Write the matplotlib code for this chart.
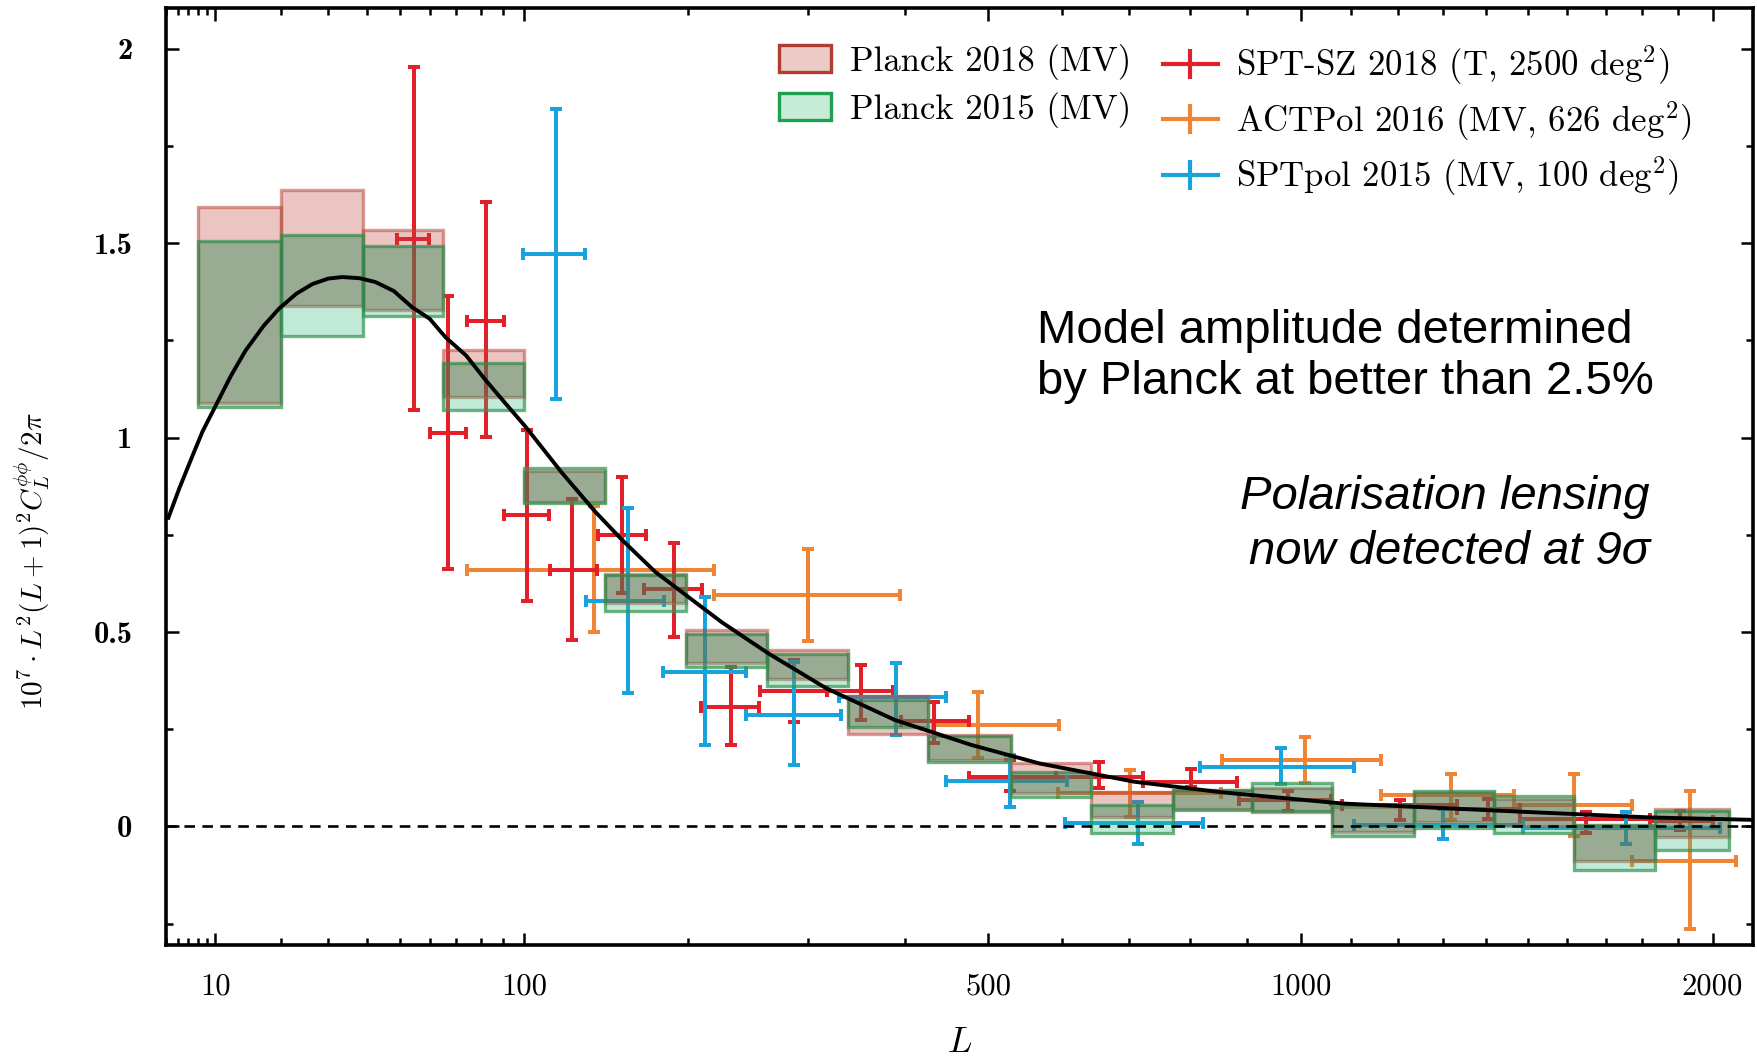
# CMB lensing power spectrum: Planck 2018/2015 bandpowers vs ground-based experiments
import numpy as np
import matplotlib
matplotlib.use('Agg')
import matplotlib.pyplot as plt
from matplotlib.lines import Line2D
from matplotlib.patches import Patch

plt.rcParams['mathtext.fontset'] = 'cm'
plt.rcParams['axes.unicode_minus'] = False

# ----------------------------------------------------------
# data
# Planck bin edges in L
bin_edges = np.array([8, 20, 39, 65, 100, 144, 198, 263, 339, 426, 530, 642,
                      770, 908, 1062, 1234, 1418, 1617, 1836, 2048])
# Planck 2018 (MV) band lower / upper
p18_lo = np.array([1.09, 1.339, 1.329, 1.104, 0.835, 0.575, 0.421, 0.378, 0.239, 0.170,
                   0.085, 0.025, 0.044, 0.036, -0.014, 0.012, 0.000, -0.090, -0.027])
p18_hi = np.array([1.594, 1.638, 1.535, 1.226, 0.915, 0.650, 0.505, 0.454, 0.335, 0.235,
                   0.162, 0.089, 0.093, 0.100, 0.050, 0.088, 0.070, 0.005, 0.046])
# Planck 2015 (MV) band lower / upper
p15_lo = np.array([1.080, 1.262, 1.312, 1.070, 0.831, 0.555, 0.409, 0.361, 0.256, 0.166,
                   0.076, -0.016, 0.042, 0.040, -0.025, -0.005, -0.018, -0.112, -0.061])
p15_hi = np.array([1.505, 1.522, 1.494, 1.193, 0.921, 0.647, 0.495, 0.443, 0.325, 0.232,
                   0.141, 0.055, 0.095, 0.112, 0.055, 0.092, 0.078, 0.003, 0.040])

# SPT-SZ 2018 (T, 2500 deg^2)
spt_L = np.array([54.5, 66.8, 82.5, 101.4, 124.8, 154.4, 189.6, 232.9, 287, 352.6, 433,
                  527.7, 654.5, 801, 975, 1205, 1405, 1648, 1905])
spt_Llo = np.array([49.1, 60.3, 74.4, 90.2, 112.8, 139.5, 169.1, 209.4, 257, 318, 396,
                    476, 591, 722, 885, 1083, 1332, 1482, 1821])
spt_Lhi = np.array([59.9, 74.0, 90.3, 112.2, 139, 170, 210, 256.2, 318, 387, 476,
                    591, 722, 882, 1060, 1332, 1482, 1821, 2000])
spt_val = np.array([1.511, 1.012, 1.301, 0.800, 0.660, 0.750, 0.610, 0.308, 0.349, 0.349,
                    0.270, 0.128, 0.128, 0.115, 0.068, 0.055, 0.045, 0.020, 0.015])
spt_lo = np.array([1.072, 0.661, 1.001, 0.581, 0.480, 0.600, 0.488, 0.209, 0.269, 0.275,
                   0.214, 0.090, 0.098, 0.102, 0.040, 0.016, 0.020, -0.018, -0.010])
spt_hi = np.array([1.952, 1.363, 1.605, 1.020, 0.842, 0.900, 0.730, 0.409, 0.428, 0.415,
                   0.321, 0.170, 0.166, 0.149, 0.092, 0.068, 0.070, 0.038, 0.040])

# ACTPol 2016 (MV, 626 deg^2)
act_L = np.array([137.5, 300.6, 487, 702, 1009, 1317, 1618, 1935])
act_Llo = np.array([74.4, 219, 432, 594, 854, 1163, 1466, 1772])
act_Lhi = np.array([219, 394, 596, 853, 1163, 1466, 1772, 2070])
act_val = np.array([0.660, 0.594, 0.261, 0.085, 0.172, 0.081, 0.055, -0.088])
act_lo = np.array([0.501, 0.478, 0.177, 0.025, 0.112, 0.016, -0.025, -0.263])
act_hi = np.array([0.824, 0.713, 0.347, 0.145, 0.229, 0.136, 0.136, 0.092])

# SPTpol 2015 (MV, 100 deg^2)
pol_L = np.array([116.3, 158.3, 212.4, 287.2, 390.6, 527.7, 713.6, 962.3, 1300, 1756])
pol_Llo = np.array([99.3, 132.9, 181.4, 244.9, 330.2, 448, 604, 817, 1107, 1488])
pol_Lhi = np.array([132.1, 182.1, 244.9, 331.9, 448, 607, 821, 1107, 1488, 2023])
pol_val = np.array([1.471, 0.581, 0.396, 0.286, 0.334, 0.117, 0.010, 0.153, 0.003, -0.005])
pol_lo = np.array([1.10, 0.343, 0.209, 0.158, 0.235, 0.049, -0.044, 0.109, -0.031, -0.044])
pol_hi = np.array([1.844, 0.820, 0.591, 0.424, 0.421, 0.184, 0.063, 0.203, 0.046, 0.038])

model_L = np.array([5.2, 6.14, 7.6, 8.5, 9.64, 12, 14.1, 17, 19.7, 23, 26.4, 30, 33.4, 38,
                    42.5, 48, 54, 60, 65.9, 74, 82, 91, 100.4, 119.2, 138, 155, 176.3, 200,
                    225.6, 264.3, 318, 388.7, 478, 568, 708, 853, 1083, 1482, 1827, 2121])
model_v = np.array([0.794, 0.869, 0.964, 1.016, 1.066, 1.159, 1.224, 1.288, 1.332, 1.370,
                    1.395, 1.409, 1.413, 1.410, 1.400, 1.377, 1.335, 1.306, 1.258, 1.211,
                    1.149, 1.088, 1.029, 0.910, 0.810, 0.735, 0.655, 0.590, 0.525, 0.445,
                    0.355, 0.274, 0.210, 0.162, 0.115, 0.088, 0.059, 0.038, 0.023, 0.017])

xmajor = [10, 100, 500, 1000, 2000]
xminor = [5, 6, 7, 8, 9, 20, 30, 40, 50, 60, 70, 80, 90, 200, 300, 400, 600, 700, 800, 900,
          1100, 1200, 1300, 1400, 1500, 1600, 1700, 1800, 1900]
ymajor = [0, 0.5, 1, 1.5, 2]
yminor = [-0.25, 0.25, 0.75, 1.25, 1.75]

c_spt = '#e2202a'
c_act = '#f08535'
c_pol = '#18a3dc'

# ----------------------------------------------------------
fig = plt.figure(figsize=(17.58, 10.64), dpi=100, facecolor='w')
ax = fig.add_axes([0.0944, 0.1118, 0.9028, 0.8807])

p = 0.4
ax.set_xscale('function', functions=(lambda x: np.abs(x)**p, lambda x: np.abs(x)**(1/p)))
ax.set_xlim(5.2, 2121)
ax.set_ylim(-0.305, 2.105)


def ebar(L, Llo, Lhi, v, lo, hi, col):
    ax.errorbar(L, v, xerr=[L - Llo, Lhi - L], yerr=[v - lo, hi - v], fmt='none',
                ecolor=col, elinewidth=2.9, capsize=4.5, capthick=2.9, zorder=2)


ebar(act_L, act_Llo, act_Lhi, act_val, act_lo, act_hi, c_act)
ebar(spt_L, spt_Llo, spt_Lhi, spt_val, spt_lo, spt_hi, c_spt)
ebar(pol_L, pol_Llo, pol_Lhi, pol_val, pol_lo, pol_hi, c_pol)

lmin = bin_edges[:-1]
width = bin_edges[1:] - bin_edges[:-1]
ax.bar(lmin, p18_hi - p18_lo, width=width, bottom=p18_lo, align='edge',
       facecolor=(0.75, 0.25, 0.22, 0.3), edgecolor=(0.72, 0.3, 0.25, 0.55), linewidth=2.4, zorder=3)
ax.bar(lmin, p15_hi - p15_lo, width=width, bottom=p15_lo, align='edge',
       facecolor=(0.2, 0.75, 0.5, 0.3), edgecolor=(0.2, 0.58, 0.32, 0.7), linewidth=2.4, zorder=3)
ov_lo = np.maximum(p18_lo, p15_lo)
ov_hi = np.minimum(p18_hi, p15_hi)
ax.bar(lmin, ov_hi - ov_lo, width=width, bottom=ov_lo, align='edge',
       facecolor=(0.22, 0.3, 0.18, 0.2), edgecolor='none', zorder=3)

ax.plot(model_L, model_v, 'k-', lw=2.8, zorder=4, solid_joinstyle='round')
ax.axhline(0, color='k', lw=1.9, ls=(0, (4, 2.8)), zorder=4)

# ticks
ax.set_xticks(xmajor)
ax.set_xticks(xminor, minor=True)
ax.set_xticklabels([str(t) for t in xmajor])
ax.set_yticks(ymajor)
ax.set_yticks(yminor, minor=True)
ax.set_yticklabels(['0', '0.5', '1', '1.5', '2'])
ax.tick_params(which='both', direction='in', top=True, right=True, width=1.8, color='k')
ax.tick_params(which='major', length=9)
ax.tick_params(which='minor', length=5)
ax.tick_params(axis='x', which='major', labelsize=22, pad=20, labelfontfamily='cmr10')
ax.tick_params(axis='y', which='major', labelsize=22, pad=24, labelfontfamily='cmb10')
for s in ax.spines.values():
    s.set_linewidth(2.6)

ax.set_xlabel(r'$L$', fontsize=26)
ax.xaxis.set_label_coords(0.5, -0.085)
ax.set_ylabel(r'$10^7\cdot L^2(L+1)^2C_L^{\phi\phi}/2\pi$', fontsize=21)
ax.yaxis.set_label_coords(-0.072, 0.41)

# legends
leg1 = ax.legend(handles=[Patch(facecolor='#eccbc6', edgecolor='#b03c32', linewidth=2.4),
                          Patch(facecolor='#c6ebd6', edgecolor='#1f9f50', linewidth=2.4)],
                 labels=['Planck 2018 (MV)', 'Planck 2015 (MV)'],
                 loc='upper left', bbox_to_anchor=(0.386, 0.962), frameon=False,
                 borderpad=0, borderaxespad=0, handlelength=1.5, handleheight=0.8,
                 handletextpad=0.55, labelspacing=0.35, prop={'family': 'cmr10', 'size': 25})
ax.add_artist(leg1)
eh = [Line2D([], [], color=c, lw=3, marker='|', markersize=22, markeredgewidth=3)
      for c in (c_spt, c_act, c_pol)]
ax.legend(handles=eh,
          labels=[r'SPT-SZ 2018 (T, 2500 deg$^2$)', r'ACTPol 2016 (MV, 626 deg$^2$)',
                  r'SPTpol 2015 (MV, 100 deg$^2$)'],
          loc='upper left', bbox_to_anchor=(0.628, 0.962), frameon=False, numpoints=1,
          borderpad=0, borderaxespad=0, handlelength=1.6, handletextpad=0.5,
          labelspacing=0.35, prop={'family': 'cmr10', 'size': 25})

# annotations
ax.text(0.549, 0.628, 'Model amplitude determined\nby Planck at better than 2.5%',
        transform=ax.transAxes, ha='left', va='center', fontsize=34,
        family='Liberation Sans', linespacing=1.2)
ax.text(0.935, 0.449, 'Polarisation lensing\nnow detected at 9σ',
        transform=ax.transAxes, ha='right', va='center', fontsize=34,
        family='Liberation Sans', style='italic', multialignment='right', linespacing=1.32)

fig.savefig('out.png', dpi=100, facecolor='w')
